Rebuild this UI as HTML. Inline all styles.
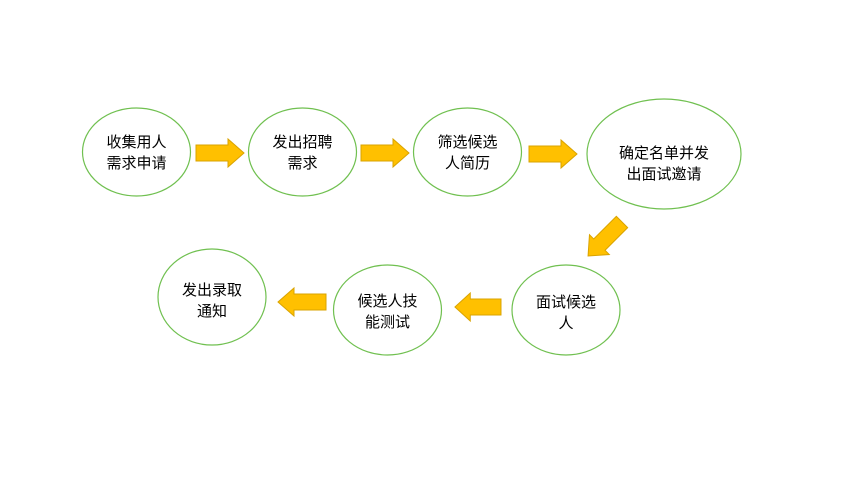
<!DOCTYPE html>
<html><head><meta charset="utf-8"><style>
body{margin:0;background:#fff;width:849px;height:481px;overflow:hidden}
text{font-family:"Liberation Sans","Noto Sans CJK SC",sans-serif;font-size:15px;fill:#000;text-anchor:middle}
</style></head><body>
<svg width="849" height="481" xmlns="http://www.w3.org/2000/svg">
<defs>
<path id="ar" d="M0,-8 L32,-8 L32,-14 L48,0 L32,14 L32,8 L0,8 Z" fill="#FFC000" stroke="#D9A300" stroke-width="1"/>
</defs>
<g fill="none" stroke="#70C050" stroke-width="1.2">
<ellipse cx="136.5" cy="152" rx="54" ry="44"/>
<ellipse cx="302.5" cy="152" rx="54" ry="44"/>
<ellipse cx="467.5" cy="152" rx="54" ry="44"/>
<ellipse cx="664" cy="154" rx="77" ry="55"/>
<ellipse cx="566" cy="310" rx="54" ry="45"/>
<ellipse cx="387.5" cy="310" rx="54" ry="45"/>
<ellipse cx="212" cy="297" rx="54" ry="48"/>
</g>
<use href="#ar" transform="translate(196,153)"/>
<use href="#ar" transform="translate(361,153)"/>
<use href="#ar" transform="translate(529,154)"/>
<use href="#ar" transform="translate(622,222) rotate(135)"/>
<use href="#ar" transform="translate(501,307) rotate(180) scale(0.96,1)"/>
<use href="#ar" transform="translate(326,302) rotate(180)"/>
<text x="136.5" y="147">收集用人</text><text x="136.5" y="168">需求申请</text>
<text x="302.5" y="147">发出招聘</text><text x="302.5" y="168">需求</text>
<text x="467.5" y="147">筛选候选</text><text x="467.5" y="168">人简历</text>
<text x="664" y="158">确定名单并发</text><text x="664" y="179">出面试邀请</text>
<text x="566" y="307">面试候选</text><text x="566" y="328">人</text>
<text x="387.5" y="306">候选人技</text><text x="387.5" y="327">能测试</text>
<text x="212" y="295">发出录取</text><text x="212" y="316">通知</text>
</svg>
</body></html>
